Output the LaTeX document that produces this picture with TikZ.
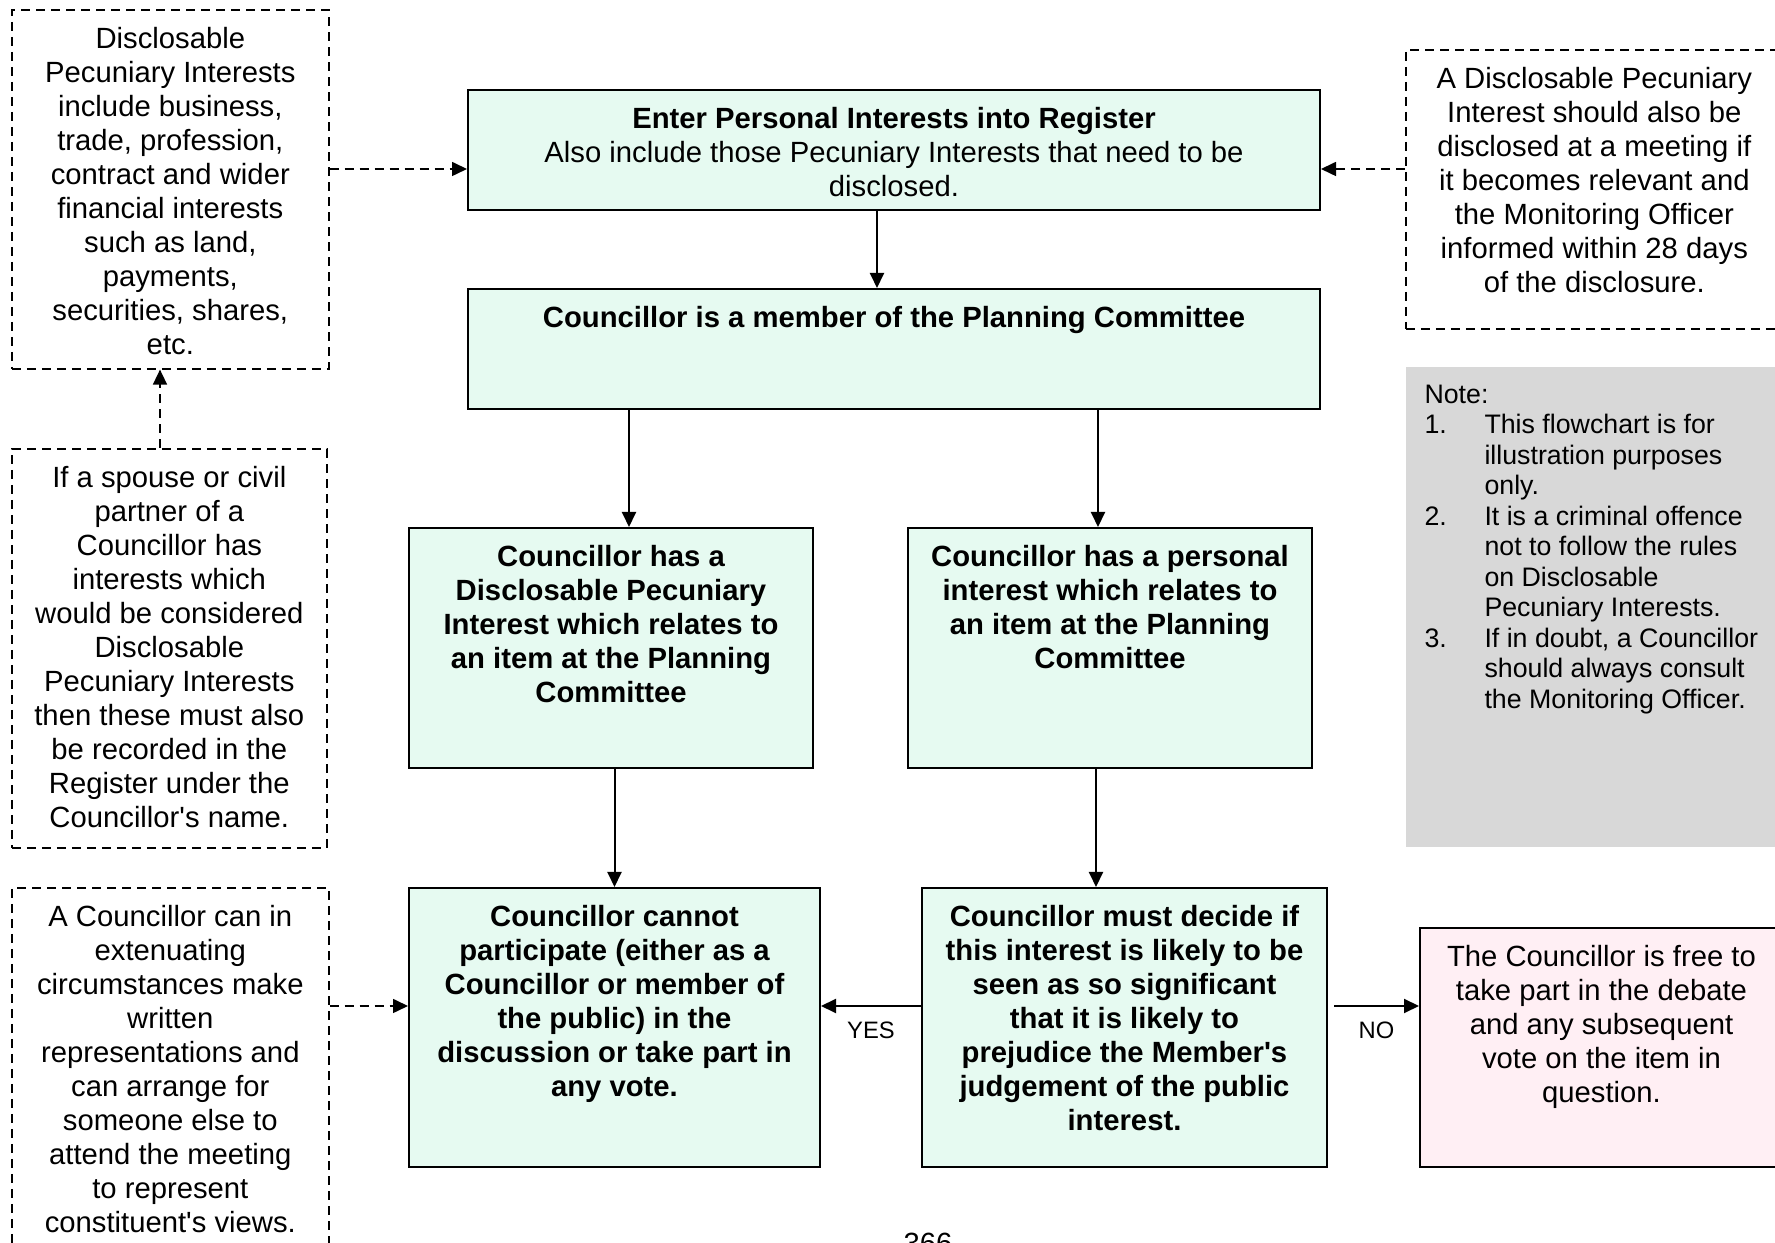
\documentclass[tikz,border=0pt]{standalone}
\usepackage{fontspec}
\setmainfont{Liberation Sans}
\usetikzlibrary{arrows.meta}

\definecolor{mint}{RGB}{230,250,241}
\definecolor{blush}{RGB}{255,239,244}
\definecolor{notegray}{RGB}{216,216,216}

\newlength{\pxu}\setlength{\pxu}{0.4pt}
\newcommand{\bodyfont}{\fontsize{11.7}{13.6}\selectfont}
\newcommand{\notefont}{\fontsize{10.7}{12.2}\selectfont}
\newcommand{\boxtext}[3]{\parbox[t][#2\pxu][t]{#1\pxu}{\centering\vspace{6pt}\strut#3}}

\tikzset{
  flowbox/.style={draw, fill=mint, line width=0.8pt, inner sep=0pt, anchor=north west, font=\bodyfont\bfseries},
  freebox/.style={flowbox, fill=blush, font=\bodyfont},
  sidebox/.style={draw, dash pattern=on 3.6pt off 2.4pt, line width=0.65pt, inner sep=0pt, anchor=north west, font=\bodyfont},
  notebox/.style={fill=notegray, inner sep=0pt, anchor=north west, font=\notefont},
  arr/.style={-{Triangle[length=6pt,width=5.6pt]}, line width=0.8pt},
  darr/.style={arr, line width=0.65pt, dash pattern=on 3.6pt off 2.4pt},
  answer/.style={font=\fontsize{9.5}{11}\selectfont, inner sep=0pt, below=6pt}
}

\begin{document}
\begin{tikzpicture}[x=0.4pt, y=-0.4pt]
\useasboundingbox (0,0) rectangle (1775,1243);

% rows and columns the connectors run on
\coordinate (toprow) at (0,169);
\coordinate (yesrow) at (0,1006);
\coordinate (midcol) at (877,0);
\coordinate (leftcol) at (629,0);
\coordinate (rightcol) at (1098,0);
\coordinate (decidecol) at (1096,0);
\coordinate (upcol) at (160,0);

% main flow
\node[flowbox, font=\bodyfont] (enter) at (467,89) {\boxtext{852}{120}{\textbf{Enter Personal Interests into Register}\\ Also include those Pecuniary Interests that need to be\\ disclosed.}};
\node[flowbox] (member) at (467,288) {\boxtext{852}{120}{Councillor is a member of the Planning Committee}};
\node[flowbox] (dpi) at (408,527) {\boxtext{404}{240}{Councillor has a\\ Disclosable Pecuniary\\ Interest which relates to\\ an item at the Planning\\ Committee}};
\node[flowbox] (personal) at (907,527) {\boxtext{404}{240}{Councillor has a personal\\ interest which relates to\\ an item at the Planning\\ Committee}};
\node[flowbox] (cannot) at (408,887) {\boxtext{411}{279}{Councillor cannot\\ participate (either as a\\ Councillor or member of\\ the public) in the\\ discussion or take part in\\ any vote.}};
\node[flowbox] (decide) at (921,887) {\boxtext{405}{279}{Councillor must decide if\\ this interest is likely to be\\ seen as so significant\\ that it is likely to\\ prejudice the Member\textquotesingle s\\ judgement of the public\\ interest.}};
\node[freebox] (free) at (1419,927) {\boxtext{363}{239}{The Councillor is free to\\ take part in the debate\\ and any subsequent\\ vote on the item in\\ question.}};

% side notes
\node[sidebox] (d1) at (11,9) {\boxtext{317}{359}{Disclosable\\ Pecuniary Interests\\ include business,\\ trade, profession,\\ contract and wider\\ financial interests\\ such as land,\\ payments,\\ securities, shares,\\ etc.}};
\node[sidebox] (d2) at (11,448) {\boxtext{315}{399}{If a spouse or civil\\ partner of a\\ Councillor has\\ interests which\\ would be considered\\ Disclosable\\ Pecuniary Interests\\ then these must also\\ be recorded in the\\ Register under the\\ Councillor\textquotesingle s name.}};
\node[sidebox] (d3) at (11,887) {\boxtext{317}{400}{A Councillor can in\\ extenuating\\ circumstances make\\ written\\ representations and\\ can arrange for\\ someone else to\\ attend the meeting\\ to represent\\ constituent\textquotesingle s views.}};
\node[sidebox] (d4) at (1405,49) {\boxtext{377}{279}{A Disclosable Pecuniary\\ Interest should also be\\ disclosed at a meeting if\\ it becomes relevant and\\ the Monitoring Officer\\ informed within 28 days\\ of the disclosure.}};
\node[notebox] (note) at (1405,367) {\parbox[t][480\pxu][t]{377\pxu}{\vspace{5.7pt}\hspace*{19\pxu}\begin{tabular}[t]{@{}p{24pt}@{}l@{}}
\multicolumn{2}{@{}l@{}}{Note:}\\
1. & This flowchart is for\\
   & illustration purposes\\
   & only.\\
2. & It is a criminal offence\\
   & not to follow the rules\\
   & on Disclosable\\
   & Pecuniary Interests.\\
3. & If in doubt, a Councillor\\
   & should always consult\\
   & the Monitoring Officer.
\end{tabular}}};

\node[anchor=north, inner sep=0pt, font=\bodyfont] (pagenum) at (928,1233) {366};

% connectors
\draw[arr] (enter.south -| midcol) -- (member.north -| midcol);
\draw[arr] (member.south -| leftcol) -- (dpi.north -| leftcol);
\draw[arr] (member.south -| rightcol) -- (personal.north -| rightcol);
\draw[arr] (dpi.south -| cannot.north) -- (cannot.north);
\draw[arr] (personal.south -| decidecol) -- (decide.north -| decidecol);
\draw[arr] (decide.west |- yesrow) -- node[answer] {YES} (cannot.east |- yesrow);
\draw[arr] (decide.east |- yesrow) ++(6,0) -- node[answer] {NO} (free.west |- yesrow);

\draw[darr] (d1.east |- toprow) -- (enter.west |- toprow);
\draw[darr] (d4.west |- toprow) -- (enter.east |- toprow);
\draw[darr] (d2.north -| upcol) -- (d1.south -| upcol);
\draw[darr] (d3.east |- yesrow) -- (cannot.west |- yesrow);

\end{tikzpicture}
\end{document}
